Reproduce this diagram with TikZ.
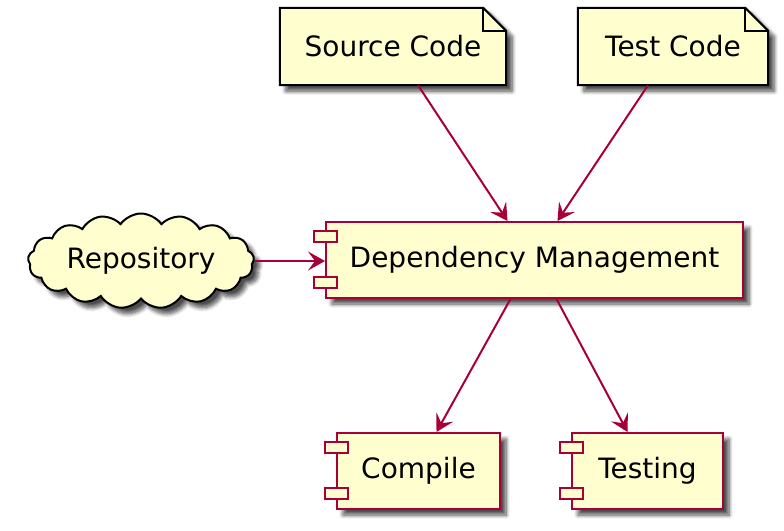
\documentclass[tikz,border=0pt]{standalone}
\usepackage{fontspec}
\setmainfont{DejaVu Sans}
\usetikzlibrary{arrows.meta,shapes.symbols,shadows.blur,backgrounds}
\definecolor{umlfill}{HTML}{FEFECE}
\definecolor{umlred}{HTML}{A80036}

\begin{document}
\begin{tikzpicture}[x=1pt,y=-1pt,
  font=\fontsize{28}{33}\selectfont,
  umlshadow/.style={blur shadow={shadow xshift=6pt,shadow yshift=-6pt,shadow blur steps=8,
    shadow blur radius=4pt,shadow opacity=70}},
  notebox/.style={minimum height=77pt,inner sep=0pt},
  notepath/.style={draw=black,fill=umlfill,line width=2pt,line join=miter,umlshadow},
  compbox/.style={draw=umlred,fill=umlfill,line width=2pt,minimum height=76pt,inner sep=0pt,umlshadow},
  portbox/.style={draw=umlred,fill=umlfill,line width=2pt},
  cloudbox/.style={cloud,cloud puffs=17,cloud puff arc=110,cloud ignores aspect,draw=black,fill=umlfill,
    line width=2pt,minimum width=226pt,minimum height=95pt,inner sep=0pt,umlshadow},
  arr/.style={draw=umlred,line width=2pt,-{Stealth[length=17pt,width=19pt,inset=7pt]}}]
\useasboundingbox (0,0) rectangle (784,530);

\node[notebox,minimum width=226pt] (src) at (393,46.5) {Source Code};
\node[notebox,minimum width=190pt] (tst) at (673,46.5) {Test Code};
\node[compbox,minimum width=417pt] (dm) at (534.5,260) {Dependency Management};
\node[cloudbox] (repo) at (141,261) {Repository};
\node[compbox,minimum width=163pt] (cmp) at (418.5,471) {Compile};
\node[compbox,minimum width=151pt] (tsg) at (647.5,471) {Testing};

% note shapes with folded corner
\begin{scope}[on background layer]
\foreach \n in {src,tst} {
  \filldraw[notepath] (\n.north west) -- ([xshift=-23pt]\n.north east) -- ([yshift=-23pt]\n.north east)
    -- (\n.south east) -- (\n.south west) -- cycle;
  \draw[line width=2pt] ([xshift=-23pt]\n.north east) |- ([yshift=-23pt]\n.north east);
}
\end{scope}

% component ports
\foreach \c in {dm,cmp,tsg} {
  \draw[portbox] ([xshift=-11pt,yshift=-10pt]\c.north west) rectangle ++(23pt,-11pt);
  \draw[portbox] ([xshift=-11pt,yshift=11pt]\c.south west) rectangle ++(23pt,11pt);
}

\draw[arr] ([xshift=25pt]src.south) -- ([xshift=-27pt]dm.north);
\draw[arr] ([xshift=-25pt]tst.south) -- ([xshift=23pt]dm.north);
\draw[arr] (repo.east) -- (repo.east -| dm.west);
\draw[arr] ([xshift=-24pt]dm.south) -- ([xshift=18pt]cmp.north);
\draw[arr] ([xshift=22pt]dm.south) -- ([xshift=-20pt]tsg.north);

\end{tikzpicture}
\end{document}
